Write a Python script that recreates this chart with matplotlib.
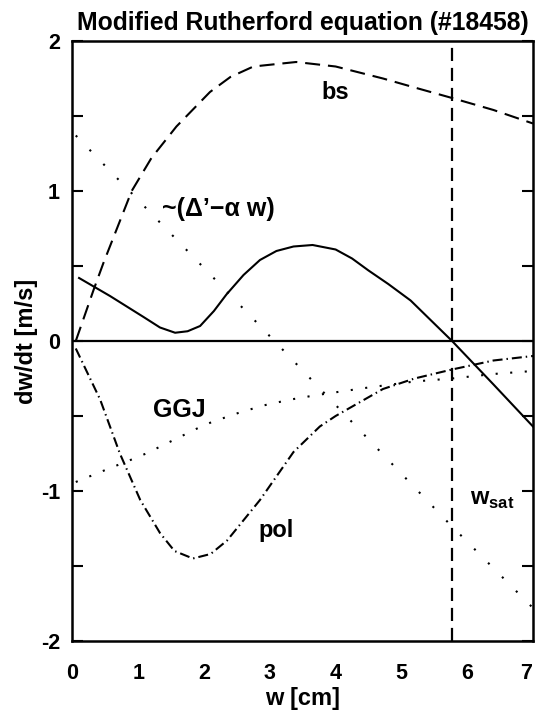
import matplotlib
matplotlib.use("Agg")
import matplotlib.pyplot as plt
from matplotlib.transforms import ScaledTranslation

# values
w_bs = [0.05, 0.32, 0.47, 0.9, 1.2, 1.58, 2.09, 2.4, 2.75, 3.4, 4.0, 4.72, 5.2, 5.77, 6.4, 7.0]
bs = [0.0, 0.34, 0.52, 1.0, 1.22, 1.43, 1.66, 1.76, 1.83, 1.86, 1.83, 1.75, 1.69, 1.62, 1.54, 1.45]

w_tot = [0.1, 0.57, 1.08, 1.33, 1.56, 1.75, 1.94, 2.15, 2.34, 2.6, 2.85, 3.1, 3.36, 3.65,
         4.0, 4.25, 4.5, 4.8, 5.14, 5.77, 6.4, 7.0]
tot = [0.42, 0.30, 0.16, 0.09, 0.055, 0.065, 0.10, 0.20, 0.31, 0.44, 0.54, 0.60, 0.63, 0.64,
       0.61, 0.55, 0.47, 0.38, 0.27, 0.0, -0.29, -0.57]

w_pol = [0.05, 0.42, 0.72, 1.03, 1.33, 1.55, 1.83, 2.1, 2.35, 2.85, 3.36, 3.76, 4.0, 4.36, 4.72, 5.2, 5.77, 6.4, 7.0]
pol = [-0.05, -0.39, -0.75, -1.06, -1.28, -1.40, -1.45, -1.42, -1.33, -1.06, -0.74, -0.57, -0.50, -0.41, -0.32, -0.25, -0.19, -0.13, -0.10]

w_ggj = [0.05, 0.5, 0.9, 1.12, 1.91, 2.12, 2.52, 2.9, 3.32, 3.72, 4.5, 5.2, 5.77, 6.4, 7.0]
ggj = [-0.94, -0.86, -0.79, -0.75, -0.58, -0.54, -0.48, -0.43, -0.39, -0.36, -0.31, -0.27, -0.25, -0.22, -0.20]

w_delta = [0.05, 2.72, 5.71, 7.0]
delta = [1.37, 0.16, -1.21, -1.78]

w_sat = 5.77

plt.rcParams['font.family'] = ['Liberation Sans', 'DejaVu Sans']
plt.rcParams['font.weight'] = 'bold'
plt.rcParams['axes.titleweight'] = 'bold'
plt.rcParams['axes.labelweight'] = 'bold'
plt.rcParams['axes.unicode_minus'] = False
plt.rcParams['mathtext.fontset'] = 'custom'
plt.rcParams['mathtext.rm'] = 'Liberation Sans:bold'
plt.rcParams['mathtext.bf'] = 'Liberation Sans:bold'

fig = plt.figure(figsize=(5.35, 7.13), dpi=100)
ax = fig.add_axes([0.1355, 0.101, 0.8607, 0.8415])

ax.plot(w_bs, bs, color='black', lw=1.5, linestyle=(0, (7.2, 3.8)))
ax.plot(w_tot, tot, color='black', lw=1.5)
ax.plot(w_pol, pol, color='black', lw=1.5, linestyle=(0, (4.8, 1.9, 0.7, 1.9)))
ax.plot(w_ggj, ggj, color='black', lw=1.5, linestyle=(0, (1, 6)))
ax.plot(w_delta, delta, color='black', lw=1.5, linestyle=(0, (1, 8.5)))
ax.axhline(0, color='black', lw=1.6)
ax.axvline(w_sat, color='black', lw=1.6, linestyle=(0, (5.9, 3.1)))

ax.text(3.78, 1.61, 'bs', fontsize=17)
ax.text(1.36, 0.83, '~(Δ’−α w)', fontsize=18)
ax.text(1.23, -0.51, 'GGJ', fontsize=18)
ax.text(2.83, -1.31, 'pol', fontsize=17)
ax.text(6.04, -1.09, r'w$_{\rm sat}$', fontsize=17)

ax.set_xlim(0, 7)
ax.set_ylim(-2, 2)
ax.set_xticks(range(8))
ax.set_yticks([-2, -1, 0, 1, 2])
ax.set_xticks([2, 4, 6], minor=True)
ax.set_yticks([-1.5, -0.5, 0.5, 1.5], minor=True)
ax.tick_params(which='major', axis='x', length=0, labelsize=15.5, pad=16)
ax.tick_params(which='major', axis='y', direction='in', length=8, width=1.5,
               right=True, labelsize=15.5, pad=9)
ax.tick_params(which='minor', direction='in', length=8, width=1.5,
               top=True, right=True)
for s in ax.spines.values():
    s.set_linewidth(1.8)

# last x label sits at the figure edge, nudge it in a bit
last = ax.get_xticklabels()[-1]
last.set_transform(last.get_transform() + ScaledTranslation(-5 / 72, 0, fig.dpi_scale_trans))

ax.set_xlabel('w [cm]', fontsize=17, labelpad=2)
ax.set_ylabel('dw/dt [m/s]', fontsize=17, labelpad=2)
ax.set_title('Modified Rutherford equation (#18458)', fontsize=17.8, pad=8)

fig.savefig('out.png', dpi=100)
